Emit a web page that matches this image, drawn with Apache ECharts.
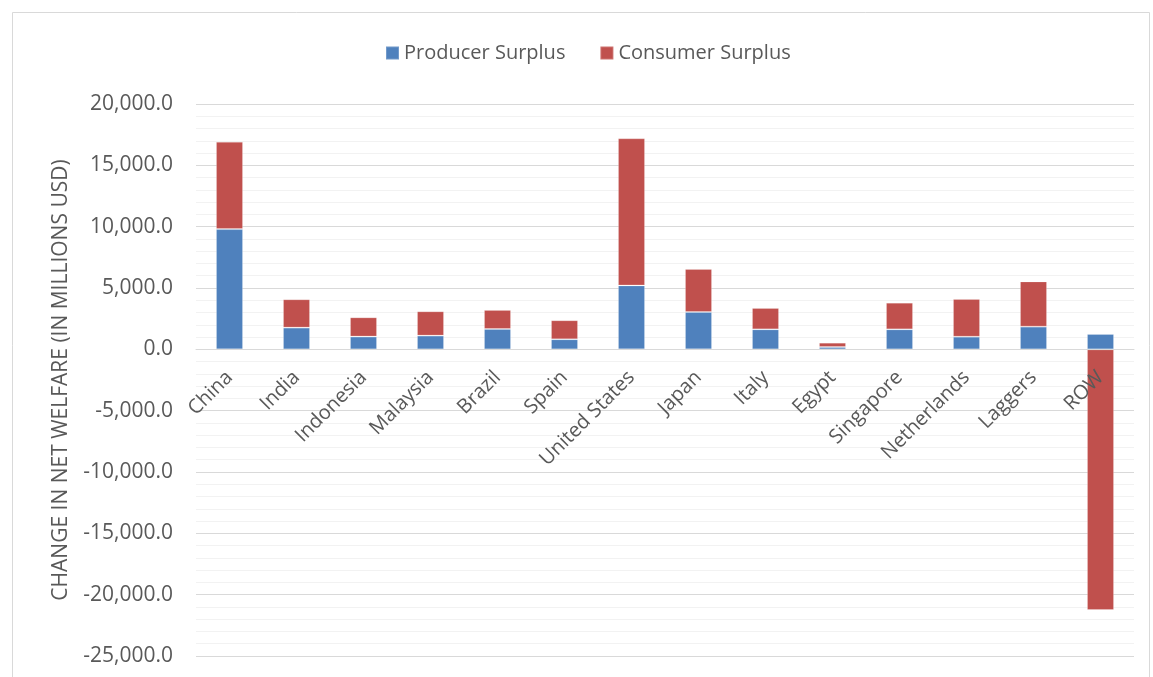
<!DOCTYPE html>
<html>
<head>
<meta charset="utf-8">
<script src="https://cdn.jsdelivr.net/npm/echarts@6/dist/echarts.min.js"></script>
<style>
html,body{margin:0;padding:0;background:#fff;}
#chart{width:1153px;height:677px;}
</style>
</head>
<body>
<div id="chart"></div>
<script>
var categories = ['China','India','Indonesia','Malaysia','Brazil','Spain','United States','Japan','Italy','Egypt','Singapore','Netherlands','Laggers','ROW'];
var producerSurplus = [9800, 1770, 1040, 1120, 1660, 820, 5210, 3040, 1630, 190, 1630, 1030, 1850, 1250];
var consumerSurplus = [7120, 2310, 1570, 1980, 1550, 1550, 11990, 3510, 1740, 350, 2170, 3070, 3690, -21250];
var yTicks = {min: -25000, max: 20000, interval: 5000};
var seriesNames = ['Producer Surplus', 'Consumer Surplus'];
var axisTitle = 'CHANGE IN NET WELFARE (IN MILLIONS USD)';

var chart = echarts.init(document.getElementById('chart'), null, {renderer: 'canvas'});
var font = 'Open Sans';
var textColor = '#595959';
var gridTop = 104, gridBottom = 21, chartH = 677;
var plotH = chartH - gridTop - gridBottom;
// distance from plot bottom up to the zero line, derived from the axis range
var zeroOffset = -plotH * (0 - yTicks.min) / (yTicks.max - yTicks.min);
function fmt(v){
  var s = Math.abs(v).toFixed(1);
  var parts = s.split('.');
  parts[0] = parts[0].replace(/\B(?=(\d{3})+(?!\d))/g, ',');
  return (v < 0 ? '-' : '') + parts.join('.');
}
chart.setOption({
  animation: false,
  backgroundColor: '#fff',
  graphic: [{
    type: 'rect',
    shape: {x: 12.5, y: 12.5, width: 1137, height: 700},
    style: {fill: 'none', stroke: '#d9d9d9', lineWidth: 1},
    silent: true
  }],
  legend: {
    data: seriesNames,
    left: 380,
    top: 38,
    itemWidth: 13,
    itemHeight: 13,
    itemGap: 34,
    icon: 'rect',
    textStyle: {fontFamily: font, fontSize: 20, color: textColor}
  },
  grid: {left: 196, right: 19, top: gridTop, bottom: gridBottom, containLabel: false, outerBoundsMode: 'none'},
  xAxis: {
    type: 'category',
    data: categories,
    position: 'bottom',
    offset: zeroOffset,
    z: 5,
    axisLine: {onZero: false, lineStyle: {color: '#d9d9d9', width: 1}},
    axisTick: {show: false},
    axisLabel: {
      rotate: 45,
      interval: 0,
      margin: 25,
      fontFamily: font,
      fontSize: 20,
      color: textColor
    },
    splitLine: {show: false}
  },
  yAxis: {
    type: 'value',
    min: yTicks.min,
    max: yTicks.max,
    interval: yTicks.interval,
    name: axisTitle,
    nameLocation: 'middle',
    nameRotate: 90,
    nameGap: 124,
    nameTextStyle: {fontFamily: font, fontSize: 21, color: textColor},
    axisLine: {show: false},
    axisTick: {show: false},
    axisLabel: {
      margin: 23,
      fontFamily: font,
      fontSize: 21,
      color: textColor,
      formatter: fmt
    },
    splitLine: {show: true, lineStyle: {color: '#d9d9d9', width: 1}},
    minorTick: {show: false, splitNumber: 5},
    minorSplitLine: {show: true, lineStyle: {color: '#f2f2f2', width: 1}}
  },
  series: [
    {
      name: seriesNames[0],
      type: 'bar',
      stack: 'total',
      data: producerSurplus,
      barWidth: 27,
      itemStyle: {color: '#4F81BD', borderColor: 'rgba(255,255,255,0.2)', borderWidth: 1}
    },
    {
      name: seriesNames[1],
      type: 'bar',
      stack: 'total',
      data: consumerSurplus,
      barWidth: 27,
      itemStyle: {color: '#C0504D', borderColor: 'rgba(255,255,255,0.2)', borderWidth: 1}
    }
  ]
});
</script>
</body>
</html>
